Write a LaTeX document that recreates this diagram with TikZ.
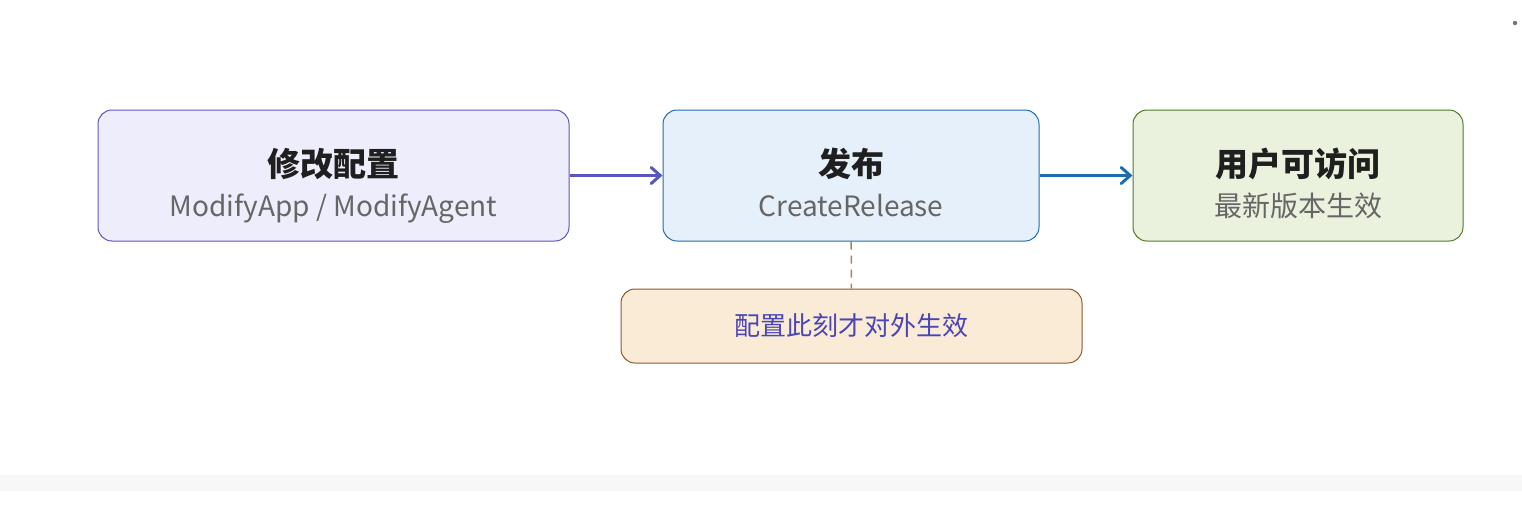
\documentclass[tikz,border=0pt]{standalone}
\usepackage{fontspec}
\setmainfont{Noto Sans CJK SC}
\usetikzlibrary{arrows.meta}

\definecolor{editfill}{HTML}{EEEDFC}
\definecolor{editline}{HTML}{5B55C0}
\definecolor{relfill}{HTML}{E6F0FA}
\definecolor{relline}{HTML}{1F6BB0}
\definecolor{userfill}{HTML}{EAF2DE}
\definecolor{userline}{HTML}{4F7A2A}
\definecolor{notefill}{HTML}{FAEBD7}
\definecolor{noteline}{HTML}{8B5A2B}
\definecolor{notetext}{HTML}{4B45B5}
\definecolor{dashline}{HTML}{A0826D}
\definecolor{subgray}{HTML}{666666}

\newcommand{\boxtitle}[1]{{\fontsize{16.5}{19}\selectfont\bfseries\color{black!88}\rule{0pt}{26pt}#1}}
\newcommand{\boxsub}[1]{{\fontsize{14}{17}\selectfont\color{subgray}\strut#1}}

\begin{document}
\begin{tikzpicture}[x=0.5pt,y=-0.5pt,
  stage/.style={draw,rounded corners=7pt,line width=0.5pt,align=center,
    minimum height=65.5pt,inner sep=0pt},
  flow/.style={line width=1.5pt,-{Straight Barb[length=4.5pt,width=8pt,line cap=round]}}]
  \useasboundingbox (0,0) rectangle (1522,510);
  \fill[black!3] (0,475) rectangle (1522,491);
  \fill[black!55] (1515,23) circle (2.2);

  \node[stage,fill=editfill,draw=editline,minimum width=235.5pt] (modify) at (333.5,175.5)
    {\boxtitle{修改配置}\\[5.5pt]\boxsub{ModifyApp / ModifyAgent}};
  \node[stage,fill=relfill,draw=relline,minimum width=188pt] (release) at (851,175.5)
    {\boxtitle{发布}\\[5.5pt]\boxsub{CreateRelease}};
  \node[stage,fill=userfill,draw=userline,minimum width=165pt] (user) at (1298,175.5)
    {\boxtitle{用户可访问}\\[5.5pt]\boxsub{最新版本生效}};
  \node[stage,fill=notefill,draw=noteline,minimum width=230.5pt,minimum height=37pt] (note) at (851.5,326)
    {\fontsize{13}{15}\selectfont\color{notetext}配置此刻才对外生效};

  \draw[flow,editline] (modify) -- (release);
  \draw[flow,relline] (release) -- (user);
  \draw[dashline,line width=0.75pt,dash pattern=on 4pt off 3pt] (release) -- (note);
\end{tikzpicture}
\end{document}
